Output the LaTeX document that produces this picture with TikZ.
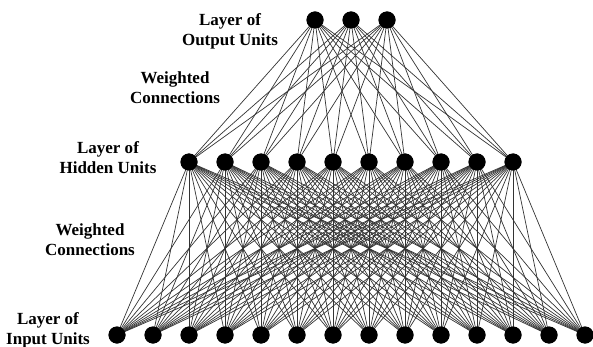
\documentclass[tikz,border=0pt]{standalone}
\usepackage{fontspec}
\setmainfont{Liberation Serif}
\begin{document}
\begin{tikzpicture}[x=1pt,y=-1pt,
  unit/.style={circle,fill=black,inner sep=0pt,minimum size=17pt},
  conn/.style={draw=black!80,line width=0.7pt},
  lbl/.style={font=\bfseries\fontsize{17}{20}\selectfont,align=center,inner sep=0pt}]
\useasboundingbox (0,0) rectangle (593,347);
% nodes
\foreach \i/\x in {1/315,2/351,3/387} \node[unit] (o\i) at (\x,20) {};
\foreach \i in {1,...,10} \node[unit] (h\i) at ({189+36*(\i-1)},162) {};
\foreach \i in {1,...,14} \node[unit] (in\i) at ({117+36*(\i-1)},335) {};
% connections
\foreach \a in {1,2,3} \foreach \b in {1,...,10}
  \draw[conn] (o\a.center) -- (h\b.center);
\foreach \a in {1,...,10} \foreach \b in {1,...,14}
  \draw[conn] (h\a.center) -- (in\b.center);
% nodes drawn again on top of the connections
\foreach \x in {315,351,387} \fill (\x,20) circle (8.5);
\foreach \i in {1,...,10} \fill ({189+36*(\i-1)},162) circle (8.5);
\foreach \i in {1,...,14} \fill ({117+36*(\i-1)},335) circle (8.5);
% labels
\node[lbl] (lo) at (230,31) {Layer of\\Output Units};
\node[lbl] (w1) at (175,88) {Weighted\\Connections};
\node[lbl] (lh) at (108,158) {Layer of\\Hidden Units};
\node[lbl] (w2) at (90,240) {Weighted\\Connections};
\node[lbl] (li) at (48,330) {Layer of\\Input Units};
\end{tikzpicture}
\end{document}
